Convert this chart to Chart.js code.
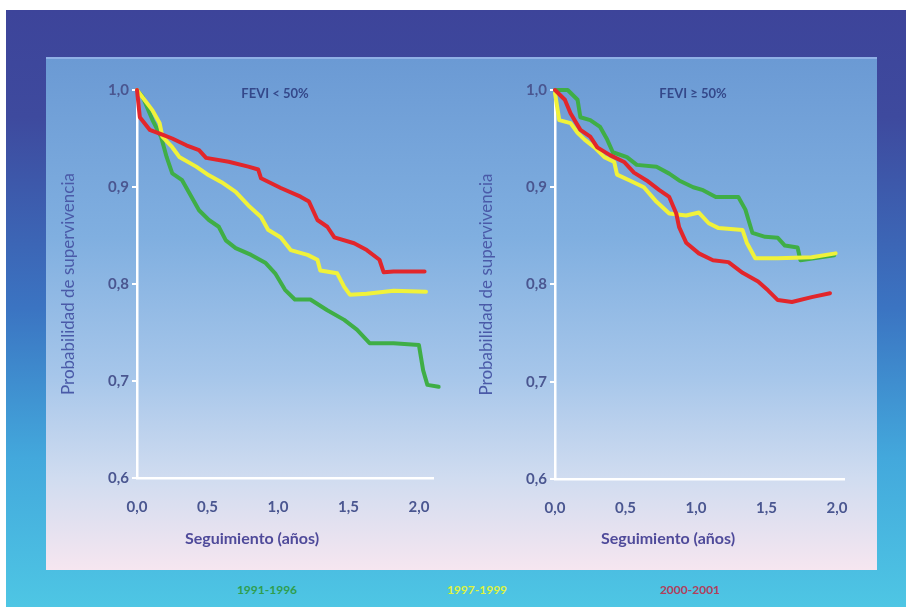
<!DOCTYPE html>
<html>
<head>
<meta charset="utf-8">
<script src="https://cdn.jsdelivr.net/npm/chart.js@4"></script>
<style>
  html, body { margin: 0; padding: 0; background: #ffffff; }
  #page { position: relative; width: 906px; height: 607px; overflow: hidden; font-family: Lato, "Open Sans", sans-serif; }
  #frame {
    position: absolute; left: 6px; top: 10px; width: 900px; height: 597px;
    background: linear-gradient(180deg, #3d449a 0%, #3e4a9e 18%, #3b74c2 50%, #43a8dc 75%, #4ec6e4 100%);
  }
  #panel {
    position: absolute; left: 46px; top: 57px; width: 831px; height: 513px;
    background: linear-gradient(180deg, #6b9ad4 0%, #80afe0 35%, #a6c6ea 62%, #d0dcf0 82%, #f6e6f0 100%);
    border-top: 2px solid #8fb0e6;
    box-sizing: border-box;
  }
  .wrap { position: absolute; top: 70px; width: 410px; height: 490px; }
  .panelTitle { position: absolute; font-size: 13px; font-weight: bold; color: #34488a; transform: translateX(-50%); white-space: nowrap; }
  .xTitle { position: absolute; font-size: 16px; font-weight: bold; color: #4f4a9a; transform: translateX(-50%); white-space: nowrap; }
  .legend { position: absolute; top: 582px; font-size: 12px; font-weight: bold; transform: translateX(-50%); white-space: nowrap; }
</style>
</head>
<body>
<div id="page">
  <div id="frame"></div>
  <div id="panel"></div>
  <div class="wrap" style="left:40px"><canvas id="leftChart" width="410" height="490"></canvas></div>
  <div class="wrap" style="left:458px"><canvas id="rightChart" width="410" height="490"></canvas></div>
  <div class="panelTitle" style="left:275px; top:85px">FEVI &lt; 50%</div>
  <div class="panelTitle" style="left:693px; top:85px">FEVI ≥ 50%</div>
  <div class="xTitle" style="left:252px; top:528px">Seguimiento (años)</div>
  <div class="xTitle" style="left:668px; top:528px">Seguimiento (años)</div>
  <div class="legend" style="left:267px; color:#2f9e4e">1991-1996</div>
  <div class="legend" style="left:477px; color:#def23e">1997-1999</div>
  <div class="legend" style="left:690px; color:#b0405c">2000-2001</div>
</div>
<script>
// Survival curves, left panel: FEVI < 50%
const leftRedT = [0, 0.02, 0.09, 0.18, 0.25, 0.35, 0.44, 0.49, 0.65, 0.79, 0.86, 0.88, 1.02, 1.16, 1.22, 1.28, 1.35, 1.40, 1.54, 1.63, 1.72, 1.75, 1.82, 2.04];
const leftRedS = [1.0, 0.972, 0.959, 0.954, 0.950, 0.943, 0.938, 0.930, 0.926, 0.921, 0.918, 0.909, 0.899, 0.890, 0.885, 0.866, 0.859, 0.848, 0.842, 0.835, 0.825, 0.812, 0.813, 0.813];

const leftYellowT = [0, 0.11, 0.16, 0.18, 0.25, 0.30, 0.42, 0.51, 0.60, 0.70, 0.79, 0.88, 0.93, 1.02, 1.09, 1.21, 1.28, 1.30, 1.42, 1.47, 1.51, 1.63, 1.82, 2.05];
const leftYellowS = [1.0, 0.979, 0.966, 0.952, 0.941, 0.931, 0.921, 0.912, 0.905, 0.895, 0.881, 0.869, 0.856, 0.848, 0.835, 0.830, 0.825, 0.814, 0.811, 0.797, 0.789, 0.790, 0.793, 0.792];

const leftGreenT = [0, 0.04, 0.11, 0.17, 0.21, 0.25, 0.32, 0.37, 0.44, 0.51, 0.58, 0.63, 0.70, 0.81, 0.91, 0.98, 1.05, 1.12, 1.23, 1.35, 1.47, 1.56, 1.65, 1.82, 2.00, 2.03, 2.06, 2.14];
const leftGreenS = [1.0, 0.993, 0.969, 0.952, 0.931, 0.914, 0.907, 0.894, 0.876, 0.866, 0.859, 0.845, 0.837, 0.830, 0.822, 0.811, 0.794, 0.784, 0.784, 0.773, 0.763, 0.753, 0.739, 0.739, 0.737, 0.711, 0.696, 0.694];

// Survival curves, right panel: FEVI >= 50%
const rightRedT = [0, 0.07, 0.11, 0.18, 0.25, 0.30, 0.39, 0.49, 0.56, 0.65, 0.74, 0.81, 0.86, 0.88, 0.93, 1.02, 1.12, 1.23, 1.33, 1.44, 1.51, 1.58, 1.68, 1.82, 1.95];
const rightRedS = [1.0, 0.990, 0.976, 0.959, 0.952, 0.941, 0.933, 0.926, 0.915, 0.907, 0.897, 0.890, 0.873, 0.859, 0.843, 0.832, 0.825, 0.823, 0.812, 0.803, 0.794, 0.784, 0.782, 0.787, 0.791];

const rightYellowT = [0, 0.03, 0.11, 0.16, 0.21, 0.28, 0.35, 0.42, 0.44, 0.53, 0.63, 0.72, 0.81, 0.93, 1.02, 1.09, 1.16, 1.33, 1.36, 1.42, 1.58, 1.82, 1.99];
const rightYellowS = [0.997, 0.969, 0.966, 0.956, 0.949, 0.941, 0.931, 0.926, 0.913, 0.907, 0.900, 0.885, 0.873, 0.871, 0.874, 0.863, 0.858, 0.856, 0.843, 0.827, 0.827, 0.828, 0.832];

const rightGreenT = [0, 0.09, 0.16, 0.18, 0.25, 0.32, 0.37, 0.41, 0.51, 0.58, 0.72, 0.81, 0.88, 0.98, 1.05, 1.14, 1.30, 1.35, 1.40, 1.49, 1.58, 1.63, 1.72, 1.74, 1.98];
const rightGreenS = [1.0, 1.0, 0.990, 0.972, 0.969, 0.962, 0.949, 0.936, 0.931, 0.923, 0.921, 0.914, 0.907, 0.900, 0.897, 0.890, 0.890, 0.877, 0.853, 0.849, 0.848, 0.840, 0.838, 0.825, 0.830];

const xTicks = [0, 0.5, 1.0, 1.5, 2.0];
const yTicks = [0.6, 0.7, 0.8, 0.9, 1.0];

const RED = '#e2262b';
const YELLOW = '#f0f23a';
const GREEN = '#3fae46';

const pts = (t, s) => t.map((v, i) => ({ x: v, y: s[i] }));
const comma = v => Number(v).toFixed(1).replace('.', ',');

function curve(t, s, color) {
  return {
    data: pts(t, s),
    borderColor: color,
    borderWidth: 4,
    pointRadius: 0,
    tension: 0,
    borderJoinStyle: 'round',
    borderCapStyle: 'round',
    clip: false
  };
}

function makeChart(id, datasets, xMax, rightPad, xHeight) {
  return new Chart(document.getElementById(id).getContext('2d'), {
    type: 'line',
    data: { datasets },
    options: {
      responsive: false,
      animation: false,
      layout: { padding: { top: 20, right: rightPad, left: 0, bottom: 0 } },
      plugins: { legend: { display: false }, tooltip: { enabled: false } },
      scales: {
        x: {
          type: 'linear',
          min: 0,
          max: xMax,
          afterBuildTicks: s => { s.ticks = xTicks.map(v => ({ value: v })); },
          afterFit: s => { s.height = xHeight; },
          grid: { drawOnChartArea: false, drawTicks: false },
          border: { color: '#ffffff', width: 2.5 },
          ticks: {
            padding: 20,
            color: '#4a5690',
            font: { family: 'Lato', size: 15, weight: 'bold' },
            callback: v => comma(v)
          }
        },
        y: {
          type: 'linear',
          min: 0.6,
          max: 1.0,
          afterBuildTicks: s => { s.ticks = yTicks.map(v => ({ value: v })); },
          afterFit: s => { s.width = 97; },
          grid: { drawOnChartArea: false, drawTicks: true, tickLength: 5, color: '#ffffff', lineWidth: 2 },
          border: { color: '#ffffff', width: 2.5 },
          ticks: {
            padding: 3,
            color: '#4a5690',
            font: { family: 'Lato', size: 15, weight: 'bold' },
            callback: v => comma(v)
          },
          title: {
            display: true,
            text: 'Probabilidad de supervivencia',
            color: '#4a5aa8',
            padding: { top: 18, bottom: 0 },
            font: { family: 'Lato', size: 17 }
          }
        }
      }
    }
  });
}

makeChart('leftChart', [
  curve(leftRedT, leftRedS, RED),
  curve(leftYellowT, leftYellowS, YELLOW),
  curve(leftGreenT, leftGreenS, GREEN)
], 2.1, 13, 82);

makeChart('rightChart', [
  curve(rightRedT, rightRedS, RED),
  curve(rightYellowT, rightYellowS, YELLOW),
  curve(rightGreenT, rightGreenS, GREEN)
], 2.05, 20, 81);
</script>
</body>
</html>
